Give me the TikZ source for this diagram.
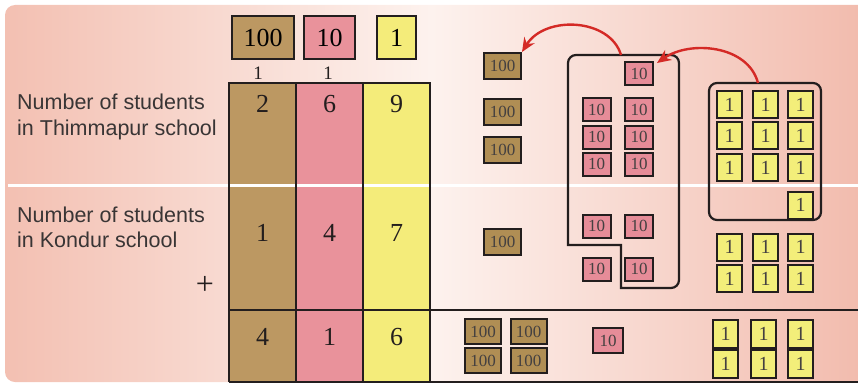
\documentclass[tikz,border=0pt]{standalone}
\usepackage{fontspec}
\setmainfont{Liberation Serif}
\setsansfont{Liberation Sans}
\usetikzlibrary{arrows.meta}
\definecolor{bgsal}{RGB}{243,192,178}
\definecolor{bglight}{RGB}{253,242,238}
\definecolor{bgsalr}{RGB}{242,188,174}
\definecolor{colbrown}{RGB}{188,152,98}
\definecolor{colpink}{RGB}{233,146,155}
\definecolor{colyellow}{RGB}{244,236,122}
\definecolor{boxbrown}{RGB}{176,142,84}
\definecolor{boxpink}{RGB}{230,140,152}
\definecolor{boxyellow}{RGB}{243,238,122}
\definecolor{arrowred}{RGB}{212,42,38}
\definecolor{linedark}{RGB}{35,30,30}
\tikzset{
  unitbox/.style={draw=linedark, line width=2pt, inner sep=0pt, font=\fontsize{17}{17}\selectfont, text=linedark!85},
  hbox/.style={unitbox, fill=boxbrown, minimum width=37pt, minimum height=26pt},
  tbox/.style={unitbox, fill=boxpink, minimum width=28pt, minimum height=23pt},
  obox/.style={unitbox, fill=boxyellow, minimum width=25pt, minimum height=27pt, font=\fontsize{20}{20}\selectfont},
  headbox/.style={draw=linedark, line width=2pt, inner sep=0pt, minimum height=43pt, font=\fontsize{26}{26}\selectfont},
  digitnode/.style={anchor=base, inner sep=0pt, font=\fontsize{26}{26}\selectfont, text=linedark},
  carrynode/.style={anchor=base, inner sep=0pt, font=\fontsize{19}{19}\selectfont, text=linedark},
  sidelabel/.style={anchor=base west, inner sep=0pt, font=\sffamily\fontsize{21.5}{21.5}\selectfont, text=linedark!90},
  gridline/.style={draw=linedark, line width=2pt},
  enclose/.style={draw=linedark, line width=2.2pt},
  redarrow/.style={draw=arrowred, line width=2.4pt, -{Stealth[length=14pt,width=12pt]}}
}
\begin{document}
\begin{tikzpicture}[x=1pt,y=-1pt]
\useasboundingbox (0,0) rectangle (858,385);
% background
\shade[left color=bgsal, right color=bgsalr, middle color=bglight]
  (858,5) -- (15,5) [rounded corners=10pt] -- (5,5) -- (5,382) [sharp corners] -- (858,382) -- cycle;
% columns
\fill[colbrown] (229,83) rectangle (296,382);
\fill[colpink] (296,83) rectangle (363,382);
\fill[colyellow] (363,83) rectangle (430,382);
% white separator
\draw[white, line width=3pt] (8,185) -- (858,185);
% grid lines
\draw[gridline] (229,382) -- (229,83) -- (430,83) -- (430,382);
\draw[gridline] (296,83) -- (296,382);
\draw[gridline] (363,83) -- (363,382);
\draw[gridline] (229,310) -- (858,310);
\draw[gridline] (229,382) -- (858,382);
% header boxes
\node[headbox, fill=colbrown, minimum width=62pt] (H100) at (263,37.5) {100};
\node[headbox, fill=colpink, minimum width=51pt] (H10) at (329.5,37.5) {10};
\node[headbox, fill=colyellow, minimum width=39pt] (H1) at (396.5,37.5) {1};
% carries
\node[carrynode] (c1) at (258,80) {1};
\node[carrynode] (c2) at (328,80) {1};
% labels
\node[sidelabel] (l1) at (17,110) {Number of students};
\node[sidelabel] (l2) at (17,135) {in Thimmapur school};
\node[sidelabel] (l3) at (17,222) {Number of students};
\node[sidelabel] (l4) at (17,247) {in Kondur school};
\node[inner sep=0pt, font=\fontsize{32}{32}\selectfont, text=linedark] (plus) at (205,285) {+};
% digits
\node[digitnode] (d1) at (262.5,113) {2};
\node[digitnode] (d2) at (329.5,113) {6};
\node[digitnode] (d3) at (396.5,113) {9};
\node[digitnode] (d4) at (262.5,241) {1};
\node[digitnode] (d5) at (329.5,241) {4};
\node[digitnode] (d6) at (396.5,241) {7};
\node[digitnode] (d7) at (262.5,345) {4};
\node[digitnode] (d8) at (329.5,345) {1};
\node[digitnode] (d9) at (396.5,345) {6};
% enclosures
\draw[enclose] (621,245) -- (621,288) [rounded corners=8pt] -- (679,288) -- (679,55) -- (568,55) [sharp corners] -- (568,245) -- cycle;
\draw[enclose, rounded corners=8pt] (709,83) rectangle (821,220);
\coordinate (tenstop) at (621,55);
\coordinate (onestop) at (758,83);
% hundreds
\node[hbox] (h1) at (502.5,66) {100};
\node[hbox] (h2) at (502.5,112) {100};
\node[hbox] (h3) at (502.5,149.5) {100};
\node[hbox] (h4) at (502.5,242) {100};
% tens
\node[tbox] (t0) at (639,73.5) {10};
\foreach \r/\y in {1/109.5,2/137,3/164,4/226,5/269} {
  \node[tbox] (ta\r) at (596.5,\y) {10};
  \node[tbox] (tb\r) at (639,\y) {10};
}
% ones
\foreach \r/\y in {1/104.5,2/135.5,3/167.5,4/247,5/278.5} {
  \node[obox] (oa\r) at (729.5,\y) {1};
  \node[obox] (ob\r) at (765.5,\y) {1};
  \node[obox] (oc\r) at (800.5,\y) {1};
}
\node[obox] (oextra) at (800.5,205) {1};
% result row
\node[hbox, minimum width=36pt, minimum height=25pt] (r1) at (483,331.5) {100};
\node[hbox, minimum width=36pt, minimum height=25pt] (r2) at (528.5,331.5) {100};
\node[hbox, minimum width=36pt, minimum height=25pt] (r3) at (483,360.5) {100};
\node[hbox, minimum width=36pt, minimum height=25pt] (r4) at (528.5,360.5) {100};
\node[tbox, minimum width=30pt, minimum height=25pt] (rt) at (608,340.5) {10};
\foreach \c/\x in {a/725.5,b/763.5,c/800.5} {
  \node[obox, minimum height=28pt] (ro\c1) at (\x,334) {1};
  \node[obox, minimum height=28pt] (ro\c2) at (\x,364) {1};
}
% arrows
\draw[redarrow] (tenstop) .. controls (610,18) and (545,15) .. (h1.north east);
\draw[redarrow] (onestop) .. controls (748,45) and (690,40) .. ([xshift=3pt,yshift=-2pt]t0.north east);
\end{tikzpicture}
\end{document}
